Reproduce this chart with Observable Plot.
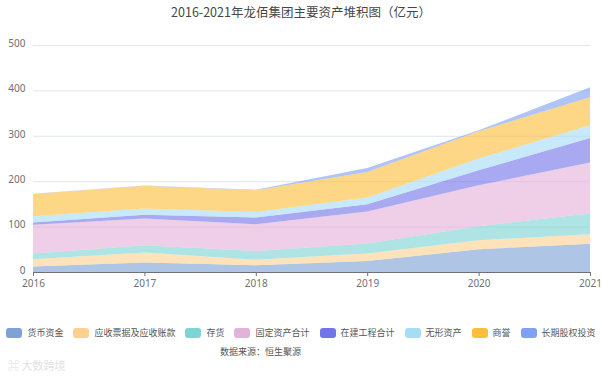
<!DOCTYPE html>
<html><head><meta charset="utf-8">
<script src="https://cdn.jsdelivr.net/npm/d3@7"></script>
<script src="https://cdn.jsdelivr.net/npm/@observablehq/plot@0.6"></script>
<style>
body{margin:0;background:#fff;width:602px;height:377px;position:relative;overflow:hidden;font-family:"Noto Sans CJK SC","Noto Sans",sans-serif;}
#title{position:absolute;left:0;width:602px;top:2px;text-align:center;font-size:12.5px;color:#464646;}
#chart{position:absolute;left:0;top:0;}
#legend{position:absolute;left:0;width:602px;top:326px;display:flex;justify-content:center;align-items:center;font-size:9px;color:#555;}
#legend .it{display:flex;align-items:center;margin:0 5px;}
#legend .sw{width:16px;height:10px;border-radius:3px;margin-right:5px;}
#source{position:absolute;left:220px;top:345px;font-size:9px;color:#555;}
#wm{position:absolute;left:8px;top:357px;font-size:11px;color:#e2e2e2;}
</style></head>
<body>
<div id="title">2016-2021年龙佰集团主要资产堆积图（亿元）</div>
<div id="chart"></div>
<div id="legend"></div>
<div id="source">数据来源：恒生聚源</div>
<div id="wm">⌘ 大数跨境</div>
<script>
const years = [2016, 2017, 2018, 2019, 2020, 2021];
const seriesNames = ["货币资金", "应收票据及应收账款", "存货", "固定资产合计", "在建工程合计", "无形资产", "商誉", "长期股权投资"];
const cash        = [12, 21, 15, 24, 50, 62];
const receivables = [16, 22, 12, 17, 20, 21];
const inventory   = [13, 16, 19, 22, 31, 46];
const fixedAssets = [63, 59, 59, 70, 90, 112];
const construction= [5, 8, 15, 16, 33, 54];
const intangible  = [14, 14, 12, 15, 26, 28];
const goodwill    = [49, 50, 48, 56, 60, 62];
const equityInv   = [0.5, 0.5, 1, 9, 2, 22];
const yTicks = [0, 100, 200, 300, 400, 500];
const colors = ["#7ea2d6", "#fdd08f", "#7dd4d4", "#e3b2d8", "#7474ea", "#a6dcf6", "#fcbf3c", "#7fa0f3"];

const seriesValues = [cash, receivables, inventory, fixedAssets, construction, intangible, goodwill, equityInv];
const data = [];
seriesNames.forEach((name, i) => {
  years.forEach((yr, j) => data.push({year: yr, series: name, value: seriesValues[i][j]}));
});

const chart = Plot.plot({
  width: 602, height: 295,
  marginTop: 45, marginBottom: 23, marginLeft: 33, marginRight: 12,
  style: {fontFamily: "'Noto Sans', sans-serif", fontSize: "10px", color: "#6e7079", background: "transparent"},
  x: {domain: [2016, 2021], label: null},
  y: {domain: [0, 500], label: null},
  color: {domain: seriesNames, range: colors},
  marks: [
    Plot.ruleY(yTicks, {stroke: "#e0e6f1", strokeWidth: 1}),
    Plot.areaY(data, {x: "year", y: "value", fill: "series", z: "series", fillOpacity: 0.62, order: seriesNames}),
    Plot.axisY({ticks: yTicks, tickSize: 0, tickPadding: 8, fill: "#6e7079", tickFormat: d => String(d), dy: -2}),
    Plot.axisX({ticks: years, tickSize: 4, tickPadding: 3, tickFormat: d => String(d), stroke: "#6e7079", fill: "#6e7079"}),
    Plot.ruleY([0], {stroke: "#6e7079", strokeWidth: 1})
  ]
});
document.getElementById("chart").appendChild(chart);

const legend = document.getElementById("legend");
seriesNames.forEach((n, i) => {
  const it = document.createElement("div"); it.className = "it";
  const sw = document.createElement("div"); sw.className = "sw"; sw.style.background = colors[i];
  const tx = document.createElement("span"); tx.textContent = n;
  it.appendChild(sw); it.appendChild(tx); legend.appendChild(it);
});
</script>
</body></html>
